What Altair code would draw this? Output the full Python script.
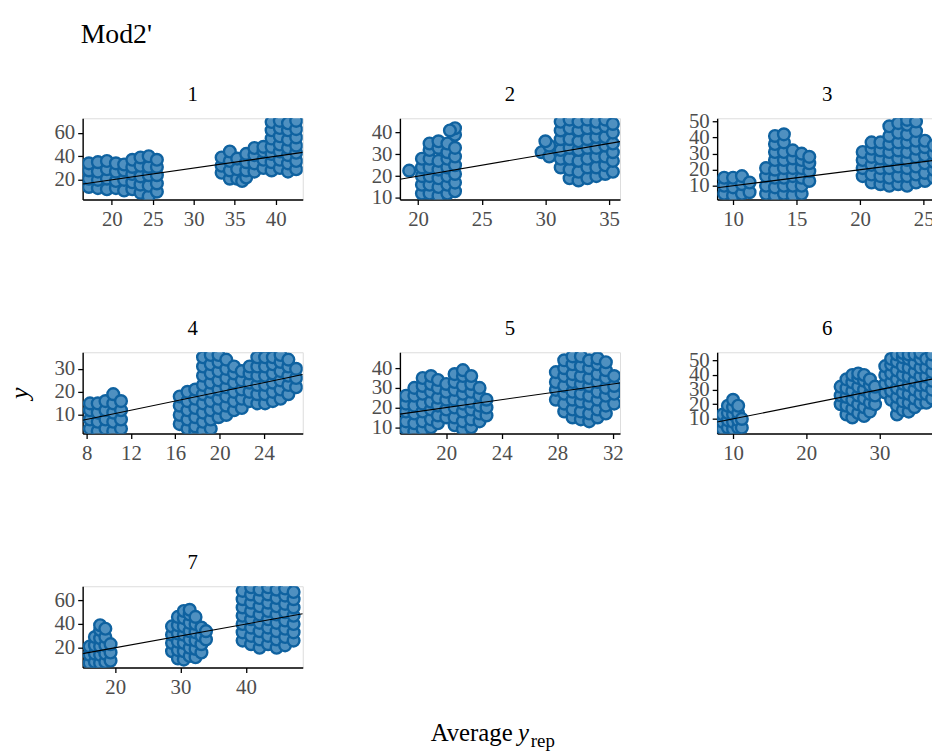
import altair as alt
import pandas as pd

SERIF = "Liberation Serif"
FILL = "#4f90c0"
EDGE = "#0f62a0"

# axis ranges
X_DOM = {1: (16.44, 43.3), 2: (18.57, 35.86), 3: (8.75, 26.07), 4: (7.64, 27.5),
         5: (16.66, 32.52), 6: (7.83, 37.9), 7: (15.03, 48.7)}
Y_DOM = {1: (3.3, 72.2), 2: (9.2, 46.6), 3: (1.4, 52.0), 4: (1.9, 37.2),
         5: (6.8, 48.1), 6: (0.0, 55.5), 7: (3.3, 71.9)}
X_TICKS = {1: [20, 25, 30, 35, 40], 2: [20, 25, 30, 35], 3: [10, 15, 20, 25],
           4: [8, 12, 16, 20, 24], 5: [20, 24, 28, 32], 6: [10, 20, 30], 7: [20, 30, 40]}
Y_TICKS = {1: [20, 40, 60], 2: [10, 20, 30, 40], 3: [10, 20, 30, 40, 50],
           4: [10, 20, 30], 5: [10, 20, 30, 40], 6: [10, 20, 30, 40, 50], 7: [20, 40, 60]}

# points: (average y_rep, [observed y values])
P1 = [(17.2, [14, 21, 28, 34]), (18.3, [13, 20, 27, 35]), (19.4, [12, 21, 29, 36]),
      (20.5, [13, 19, 27, 34]), (21.5, [11, 20, 28, 33]),
      (22.5, [12, 18, 25, 31, 37]), (23.5, [9, 16, 23, 32, 39]), (24.5, [6, 15, 24, 31, 40]),
      (25.5, [10, 17, 24, 31, 37]),
      (33.4, [26, 32, 39]), (34.4, [21, 28, 36, 44]), (35.3, [21, 29, 38]), (35.9, [19]),
      (36.4, [22, 28, 35, 42]), (37.4, [27, 34, 41, 47]), (38.5, [30, 37, 44, 48]),
      (39.5, [28, 35, 42, 48, 55, 62, 69]), (40.5, [30, 37, 44, 50, 57, 64, 70]),
      (41.5, [27, 34, 41, 47, 54, 62, 68]), (42.5, [29, 36, 43, 49, 56, 63, 70])]
P2 = [(19.3, [22.5]),
      (20.3, [12, 16, 20, 24, 28]), (20.9, [12, 16, 20, 24, 28, 32, 35]),
      (21.6, [11, 15, 19, 23, 27, 33, 36]), (22.3, [12, 16, 20, 24, 28, 31, 35]),
      (22.9, [13, 17, 21, 25, 29, 33, 39, 42]), (22.5, [41]),
      (29.7, [31]), (30.3, [29, 34]), (30.0, [36]),
      (31.2, [24, 28, 32, 37, 41, 45]), (31.9, [19, 23, 28, 33, 37, 42, 46]),
      (32.6, [18, 22, 27, 32, 36, 41, 45]), (33.3, [19, 24, 28, 33, 37, 42, 46]),
      (34.0, [20, 24, 29, 33, 38, 42, 45]), (34.7, [21, 25, 29, 34, 38, 43, 46]),
      (35.3, [22, 27, 31, 35, 40, 44])]
P3 = [(9.3, [5, 10, 15]), (10.0, [4, 9, 15]), (10.7, [5, 11, 16]), (11.3, [6, 12]),
      (12.6, [5, 10, 16, 21]), (13.3, [4, 9, 15, 20, 26, 31, 36, 41]),
      (14.0, [5, 10, 15, 21, 26, 31, 37, 42]), (14.7, [4, 10, 16, 21, 27, 32]),
      (15.4, [5, 10, 15, 21, 26, 30]), (16.0, [13, 19, 24, 28]),
      (20.2, [16, 21, 26, 31]), (20.9, [12, 17, 23, 28, 33, 37]),
      (21.6, [11, 16, 21, 27, 32, 37]), (22.3, [10, 15, 21, 26, 31, 36, 41, 47]),
      (23.0, [11, 16, 22, 27, 32, 37, 43, 49]), (23.7, [10, 16, 21, 26, 31, 37, 42, 48, 51]),
      (24.4, [12, 17, 22, 28, 33, 38, 44, 50]), (25.1, [13, 18, 24, 29, 34, 38]),
      (25.8, [15, 20, 25, 30, 35])]
P4 = [(8.3, [4, 8, 12, 15]), (9.0, [3, 7, 11, 15]), (9.7, [4, 8, 12, 16]),
      (10.4, [3, 7, 11, 15, 19]), (11.1, [4, 8, 12, 16]),
      (16.4, [6, 10, 14, 18]), (17.1, [4, 8, 12, 16, 20]), (17.8, [3, 5, 9, 13, 17, 21]),
      (18.5, [3, 7, 11, 15, 19, 23, 27, 31, 35]), (19.2, [4, 8, 12, 16, 20, 24, 28, 32, 36]),
      (19.9, [9, 13, 17, 21, 25, 29, 33, 36]), (20.6, [10, 14, 18, 22, 26, 30, 34]),
      (21.3, [12, 16, 20, 24, 28, 31]), (22.0, [13, 17, 21, 25, 29]),
      (22.7, [16, 20, 24, 28, 31]), (23.4, [15, 19, 23, 27, 31, 35]),
      (24.1, [15, 19, 23, 27, 31, 35]), (24.8, [16, 20, 24, 28, 32, 35]),
      (25.5, [17, 21, 25, 29, 33, 36]), (26.2, [19, 23, 27, 31, 34]), (26.9, [22, 26, 30])]
P5 = [(17.1, [9, 13, 18, 22, 26]), (17.7, [8, 12, 17, 21, 26, 30]),
      (18.3, [9, 13, 18, 22, 27, 31, 35]), (18.9, [10, 14, 19, 23, 28, 32, 36]),
      (19.4, [12, 16, 21, 25, 30, 34]),
      (20.0, [15, 19, 24, 28, 32]), (20.6, [11, 15, 20, 24, 29, 33, 37]),
      (21.2, [9, 13, 18, 22, 27, 31, 36, 39]), (21.8, [10, 14, 19, 23, 28, 32, 36]),
      (22.4, [13, 17, 21, 26, 30]), (22.9, [16, 20, 24]),
      (27.9, [24, 29, 33, 38]), (28.5, [18, 22, 27, 31, 36, 40, 44]),
      (29.1, [15, 19, 24, 28, 33, 37, 42, 46]), (29.7, [14, 18, 23, 27, 32, 36, 41, 46]),
      (30.3, [13, 17, 22, 26, 31, 35, 40, 44]), (30.9, [15, 19, 24, 28, 33, 37, 42, 45]),
      (31.5, [17, 21, 26, 30, 35, 39, 43]), (32.1, [22, 27, 31, 36])]
P6 = [(8.6, [3, 8, 13]), (9.3, [4, 9, 14, 19]), (10.0, [3, 8, 13, 18, 23]),
      (10.7, [4, 9, 14, 19]), (11.2, [4, 10]),
      (24.7, [20, 26, 32]), (25.5, [13, 19, 25, 31, 37]), (26.3, [11, 17, 23, 29, 35, 40]),
      (27.1, [14, 20, 26, 32, 38, 41]), (27.9, [12, 18, 24, 30, 36, 40]),
      (28.7, [15, 21, 27, 33, 37]), (29.4, [20, 26, 32]),
      (30.8, [28, 34, 40, 46]), (31.6, [23, 29, 35, 41, 47, 51]),
      (32.4, [13, 19, 25, 31, 37, 43, 49, 54]), (33.2, [16, 22, 28, 34, 40, 46, 52, 55]),
      (34.0, [15, 21, 27, 33, 39, 45, 51, 54]), (34.8, [18, 24, 30, 36, 42, 48, 54]),
      (35.6, [21, 27, 33, 39, 45, 51, 55]), (36.4, [21, 27, 33, 39, 45, 51]),
      (37.2, [24, 30, 36, 42, 48, 54])]
P7 = [(16.1, [7, 14, 21]), (16.9, [8, 15, 22, 29]), (17.7, [7, 14, 21, 28, 35, 39]),
      (18.5, [8, 15, 22, 29, 36]), (19.3, [9, 16, 23]),
      (28.7, [17, 24, 31, 38]), (29.6, [11, 18, 25, 32, 39, 46]),
      (30.5, [10, 17, 24, 31, 38, 45, 51]), (31.4, [13, 20, 27, 34, 41, 48, 52]),
      (32.3, [12, 19, 26, 33, 40, 46]), (33.2, [16, 23, 30, 37]), (33.9, [27, 34]),
      (39.5, [26, 33, 40, 47, 54, 61, 68]), (40.8, [23, 30, 37, 44, 51, 58, 65, 71]),
      (42.1, [20, 27, 34, 41, 48, 55, 62, 69]), (43.4, [23, 30, 37, 44, 51, 58, 65, 71]),
      (44.7, [20, 27, 34, 41, 48, 55, 62, 69]), (46.0, [22, 29, 36, 43, 50, 57, 64, 70]),
      (47.3, [26, 33, 40, 47, 54, 61, 67])]
POINTS = {1: P1, 2: P2, 3: P3, 4: P4, 5: P5, 6: P6, 7: P7}

W, H = 222, 82
TICK_FS = 21

one = pd.DataFrame({"d": [0]})


def label(text, px, py, fs, style="normal", align="left"):
    return alt.Chart(one).mark_text(text=text, font=SERIF, fontSize=fs, fontStyle=style,
                                    align=align, baseline="alphabetic",
                                    color="black").encode(x=alt.value(px), y=alt.value(py))


def panel(k, extra=None, ytitle=None):
    df = pd.DataFrame([(x, y) for x, ys in POINTS[k] for y in ys], columns=["avg", "y"])
    line_df = pd.DataFrame({"avg": list(X_DOM[k]), "y": list(X_DOM[k])})
    xs = alt.Scale(domain=list(X_DOM[k]), nice=False, zero=False)
    ys = alt.Scale(domain=list(Y_DOM[k]), nice=False, zero=False)
    xa = alt.Axis(values=X_TICKS[k], title=None, grid=False, labelOverlap=False,
                  labelFlush=False, tickSize=5, tickColor="black", domainColor="black",
                  domainWidth=1.4, tickWidth=1.3, labelFont=SERIF, labelFontSize=TICK_FS,
                  labelColor="#4d4d4d", labelPadding=4)
    ya_kw = dict(values=Y_TICKS[k], grid=False, labelOverlap=False, labelFlush=False,
                 tickSize=5, tickColor="black", domainColor="black", domainWidth=1.4,
                 tickWidth=1.3, labelFont=SERIF, labelFontSize=TICK_FS,
                 labelColor="#4d4d4d", labelPadding=3)
    if ytitle:
        ya = alt.Axis(title=ytitle, titleFont=SERIF, titleFontSize=26, titleFontStyle="italic",
                      titleFontWeight="normal", titleColor="black", titleAngle=270,
                      titleX=-64, titleY=H / 2, titleAlign="center", titleBaseline="middle",
                      **ya_kw)
    else:
        ya = alt.Axis(title=None, **ya_kw)
    pts = alt.Chart(df).mark_circle(size=140, fill=FILL, stroke=EDGE, strokeWidth=2.4,
                                    opacity=1, clip=True).encode(
        x=alt.X("avg:Q", scale=xs, axis=xa),
        y=alt.Y("y:Q", scale=ys, axis=ya))
    line = alt.Chart(line_df).mark_line(color="black", strokeWidth=1.1, clip=True).encode(
        x=alt.X("avg:Q", scale=xs, axis=xa),
        y=alt.Y("y:Q", scale=ys, axis=ya))
    strip = label(str(k), W / 2, -17, 21, align="center")
    layers = [pts, line, strip] + (extra or [])
    return alt.layer(*layers).properties(width=W, height=H)


main_title = [label("Mod2'", -2, -76, 28)]
x_title = [label("Average", 351, 156, 25), label("y", 439, 156, 25, "italic"),
           label("rep", 452, 162, 19)]

row1 = alt.hconcat(panel(1, extra=main_title), panel(2), panel(3), spacing=98, bounds="flush")
row2 = alt.hconcat(panel(4, ytitle="y"), panel(5), panel(6), spacing=98, bounds="flush")
row3 = alt.hconcat(panel(7, extra=x_title), spacing=98, bounds="flush")

chart = alt.vconcat(row1, row2, row3, spacing=236, bounds="flush").properties(
    autosize=alt.AutoSizeParams(type="none"),
    padding={"left": 75.3, "top": 108, "right": 856.7, "bottom": 638},
).configure_view(stroke=None).configure(background="white")

chart.save("out.html", embed_options={"renderer": "svg", "actions": False})
